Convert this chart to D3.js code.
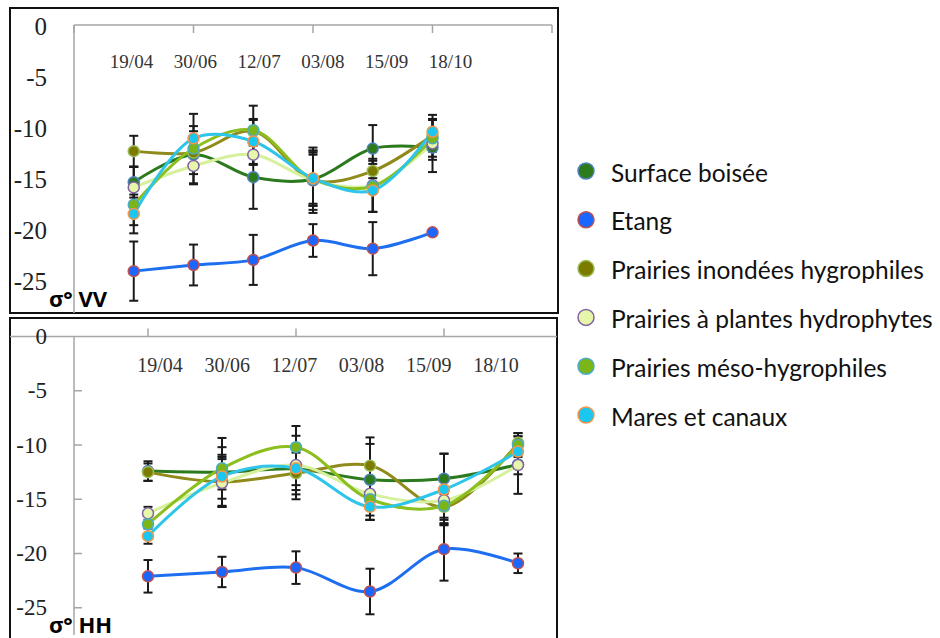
<!DOCTYPE html>
<html><head><meta charset="utf-8">
<script src="https://cdn.jsdelivr.net/npm/d3@7"></script>
<style>body{margin:0;background:#fff}</style>
</head><body><svg id="c" width="940" height="638"></svg>
<script>
const dates = ["19/04","30/06","12/07","03/08","15/09","18/10"];
const seriesNames = ["Surface boisée","Etang","Prairies inondées hygrophiles","Prairies à plantes hydrophytes","Prairies méso-hygrophiles","Mares et canaux"];
const yTicks = [0,-5,-10,-15,-20,-25];

// σ° VV (top panel): means and error half-widths
const vvSurface     = [-15.4, -12.7, -14.9, -15.1, -12.1, -12.0];
const vvSurfaceErr  = [1.5, 1.2, 3.1, 2.4, 2.3, 1.2];
const vvEtang       = [-24.1, -23.5, -23.0, -21.1, -21.9, -20.3];
const vvEtangErr    = [2.9, 2.0, 2.45, 1.6, 2.6, 0.3];
const vvInondees    = [-12.35, -12.5, -10.4, -15.2, -14.3, -10.8];
const vvInondeesErr = [1.5, 2.1, 1.1, 2.9, 0.7, 1.6];
const vvHydro       = [-15.9, -13.8, -12.7, -15.2, -15.7, -11.6];
const vvHydroErr    = [2.0, 1.8, 1.0, 3.2, 2.6, 2.8];
const vvMeso        = [-17.6, -12.1, -10.3, -15.1, -15.8, -11.1];
const vvMesoErr     = [2.0, 3.4, 2.4, 2.6, 2.5, 1.8];
const vvMares       = [-18.5, -11.1, -11.4, -15.0, -16.2, -10.45];
const vvMaresErr    = [1.9, 1.2, 2.2, 2.7, 2.1, 1.25];

// σ° HH (bottom panel)
const hhSurface     = [-12.4, -12.5, -12.2, -13.2, -13.1, -11.8];
const hhSurfaceErr  = [0.9, 1.6, 1.5, 3.3, 2.3, 0.9];
const hhEtang       = [-22.1, -21.7, -21.3, -23.5, -19.6, -20.9];
const hhEtangErr    = [1.5, 1.4, 1.5, 2.1, 2.9, 0.9];
const hhInondees    = [-12.5, -13.4, -12.6, -11.9, -15.7, -9.8];
const hhInondeesErr = [0.8, 2.3, 2.4, 2.6, 1.2, 0.9];
const hhHydro       = [-16.3, -13.5, -11.85, -14.5, -15.1, -11.85];
const hhHydroErr    = [0.6, 2.2, 2.7, 2.4, 2.2, 2.65];
const hhMeso        = [-17.3, -12.15, -10.2, -15.0, -15.6, -10.0];
const hhMesoErr     = [1.1, 2.8, 1.95, 1.9, 1.6, 1.1];
const hhMares       = [-18.4, -12.9, -12.15, -15.7, -14.1, -10.6];
const hhMaresErr    = [0.7, 2.7, 2.0, 1.2, 3.3, 1.4];

const lineColors   = ["#2c7a1e","#1e6ff0","#8f8a1a","#d6f09c","#8cbf1e","#2ec5ea"];
const markerFills  = ["#2e7b1e","#1a66ff","#7b7b00","#e6f6aa","#7cb518","#1bc6f0"];
const markerStroke = ["#4f81bd","#c0504d","#9bbb59","#8064a2","#4bacc6","#f79646"];

const svg = d3.select("#c");
svg.append("rect").attr("width",940).attr("height",638).attr("fill","#fff");

function drawPanel(cfg) {
  const g = svg.append("g");
  const x = d3.scaleLinear().domain(cfg.xDomain).range(cfg.xRange);
  const y = d3.scaleLinear().domain(cfg.yDomain).range(cfg.yRange);
  const xl = d3.scalePoint().domain(dates).range(cfg.labelRange);

  // frame
  g.append("rect").attr("x",cfg.box[0]).attr("y",cfg.box[1]).attr("width",cfg.box[2]).attr("height",cfg.box[3])
    .attr("fill","none").attr("stroke","#111").attr("stroke-width",2);

  // axes lines
  g.append("line").attr("x1",x(0)).attr("x2",x(0)).attr("y1",y(0)).attr("y2",cfg.yRange[1])
    .attr("stroke","#a6a6a6").attr("stroke-width",1.5);
  g.append("line").attr("x1",cfg.xAxisSpan[0]).attr("x2",cfg.xAxisSpan[1]).attr("y1",y(0)).attr("y2",y(0))
    .attr("stroke","#a6a6a6").attr("stroke-width",1.5);
  cfg.xTicks.forEach(t => {
    g.append("line").attr("x1",x(t)).attr("x2",x(t)).attr("y1",y(0)).attr("y2",y(0)+cfg.xTickDir*8)
      .attr("stroke","#a6a6a6").attr("stroke-width",1.5);
  });
  if (cfg.yTickMarks) {
    yTicks.slice(1).forEach(t => {
      g.append("line").attr("x1",x(0)).attr("x2",x(0)+8).attr("y1",y(t)).attr("y2",y(t))
        .attr("stroke","#a6a6a6").attr("stroke-width",1.5);
    });
  }
  // y tick labels
  g.selectAll(".yl").data(yTicks).join("text")
    .attr("x",47).attr("y",d=>y(d)+cfg.yLabelShift)
    .attr("text-anchor","end").attr("dominant-baseline","central")
    .attr("font-family","'Liberation Serif','Times New Roman',serif")
    .attr("font-size",cfg.yFont).attr("fill","#222")
    .text(d=>d);
  // date labels
  g.selectAll(".dl").data(dates).join("text")
    .attr("x",d=>xl(d)).attr("y",cfg.labelBaseline)
    .attr("text-anchor","middle")
    .attr("font-family","'Liberation Serif','Times New Roman',serif")
    .attr("font-size",cfg.dateFont).attr("fill","#333")
    .text(d=>d);

  const px = i => x(i+1);
  // error bars
  cfg.series.forEach((s) => {
    s.v.forEach((v,i) => {
      const e = s.e[i];
      const xx = px(i);
      g.append("line").attr("x1",xx).attr("x2",xx).attr("y1",y(v+e)).attr("y2",y(v-e))
        .attr("stroke","#1a1a1a").attr("stroke-width",2);
      [v+e, v-e].forEach(c => {
        g.append("line").attr("x1",xx-4.5).attr("x2",xx+4.5).attr("y1",y(c)).attr("y2",y(c))
          .attr("stroke","#1a1a1a").attr("stroke-width",2);
      });
    });
  });
  const line = d3.line().x((d,i)=>px(i)).y(d=>y(d)).curve(d3.curveCatmullRom.alpha(0.5));
  cfg.series.forEach((s,k) => {
    g.append("path").attr("d",line(s.v)).attr("fill","none")
      .attr("stroke",lineColors[k]).attr("stroke-width",3);
  });
  cfg.series.forEach((s,k) => {
    g.selectAll(null).data(s.v).join("circle")
      .attr("cx",(d,i)=>px(i)).attr("cy",d=>y(d)).attr("r",5.5)
      .attr("fill",markerFills[k]).attr("stroke",markerStroke[k]).attr("stroke-width",1.5);
  });
  // panel title
  g.append("text").attr("x",cfg.title[0]).attr("y",cfg.title[1])
    .attr("font-family","'Open Sans','DejaVu Sans',sans-serif").attr("font-weight","bold")
    .attr("font-size",22).attr("fill","#000").text(cfg.title[2]);
}

drawPanel({
  box:[10,8,548,305],
  xDomain:[0,8], xRange:[74,552], xTicks:[0,2,4,6,8], xTickDir:1, xAxisSpan:[74,552],
  yDomain:[0,-28.2], yRange:[25,313], yLabelShift:1.5, yFont:25, yTickMarks:false,
  labelRange:[131.5,450.5], labelBaseline:68, dateFont:19,
  title:[49,307,"σ° VV"],
  series:[
    {v:vvSurface,e:vvSurfaceErr},{v:vvEtang,e:vvEtangErr},{v:vvInondees,e:vvInondeesErr},
    {v:vvHydro,e:vvHydroErr},{v:vvMeso,e:vvMesoErr},{v:vvMares,e:vvMaresErr}
  ]
});
drawPanel({
  box:[10,318,547,330],
  xDomain:[0,6.5], xRange:[74,555], xTicks:[1,3,5], xTickDir:-1, xAxisSpan:[10,557],
  yDomain:[0,-27.5], yRange:[336.5,634.9], yLabelShift:0, yFont:23, yTickMarks:true,
  labelRange:[160,496], labelBaseline:372, dateFont:20,
  title:[49,633,"σ° HH"],
  series:[
    {v:hhSurface,e:hhSurfaceErr},{v:hhEtang,e:hhEtangErr},{v:hhInondees,e:hhInondeesErr},
    {v:hhHydro,e:hhHydroErr},{v:hhMeso,e:hhMesoErr},{v:hhMares,e:hhMaresErr}
  ]
});

// legend
const ly = d3.scalePoint().domain(seriesNames).range([171,415]);
const lg = svg.append("g");
lg.selectAll("circle").data(seriesNames).join("circle")
  .attr("cx",586).attr("cy",d=>ly(d)).attr("r",8)
  .attr("fill",(d,i)=>markerFills[i]).attr("stroke",(d,i)=>markerStroke[i]).attr("stroke-width",1.5);
lg.selectAll("text").data(seriesNames).join("text")
  .attr("x",611).attr("y",d=>ly(d)+1).attr("dominant-baseline","central")
  .attr("font-family","Lato,'Open Sans',sans-serif").attr("font-size",24.5).attr("fill","#111")
  .text(d=>d);
</script></body></html>
